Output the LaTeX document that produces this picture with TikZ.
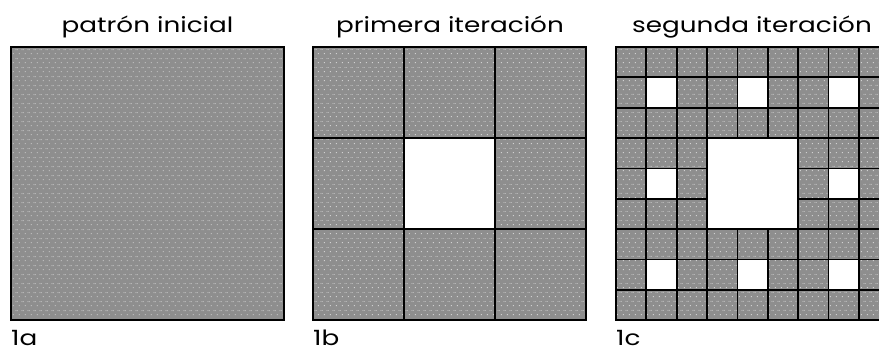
\documentclass[tikz,border=0pt]{standalone}
\usepackage{fontspec}
\setmainfont{Poppins}[FakeStretch=1.25]
\usetikzlibrary{patterns.meta}
\definecolor{cellgray}{HTML}{8E8E8E}
\definecolor{dotgray}{HTML}{D0D0D0}
\tikzdeclarepattern{
  name=gdots, type=colored,
  bottom left={(0pt,0pt)}, top right={(6.1pt,9pt)},
  tile size={(6.1pt,9pt)},
  code={
    \pgfsetfillcolor{dotgray}
    \pgfpathrectangle{\pgfpoint{1pt}{1pt}}{\pgfpoint{1pt}{1pt}}\pgfusepath{fill}
    \pgfpathrectangle{\pgfpoint{4.05pt}{5.5pt}}{\pgfpoint{1pt}{1pt}}\pgfusepath{fill}
  }
}
\tikzset{
  cell/.style={preaction={fill=cellgray}, pattern=gdots, draw=black, line width=1.8pt},
  hole/.style={fill=white, draw=black, line width=1.8pt},
  title/.style={anchor=base, font=\fontsize{21}{25}\selectfont},
  tag/.style={anchor=base west, inner sep=0pt, text depth=0pt, font=\fontsize{21}{25}\selectfont}
}
\begin{document}
\begin{tikzpicture}[x=1pt,y=-1pt]
\useasboundingbox (0,0) rectangle (879,352);
\clip (0,0) rectangle (879,352);
% square 1
\draw[cell] (11,47) rectangle (284,320);
% square 2
\foreach \i in {0,1,2}{
  \foreach \j in {0,1,2}{
    \pgfmathsetmacro\xa{313+\i*91}
    \pgfmathsetmacro\ya{47+\j*91}
    \ifnum\i=1 \ifnum\j=1
      \draw[hole] (\xa,\ya) rectangle ++(91,91);
    \else
      \draw[cell] (\xa,\ya) rectangle ++(91,91);
    \fi\else
      \draw[cell] (\xa,\ya) rectangle ++(91,91);
    \fi
  }
}
% square 3
\draw[hole] (707.3,138.3) rectangle ++(91.1,91.1);
\foreach \i in {0,...,8}{
  \foreach \j in {0,...,8}{
    \pgfmathtruncatemacro\hole{((mod(\i,3)==1)&&(mod(\j,3)==1))||((\i>2)&&(\i<6)&&(\j>2)&&(\j<6))}
    \pgfmathsetmacro\xa{616+\i*30.37}
    \pgfmathsetmacro\ya{47+\j*30.37}
    \ifnum\hole=0
      \draw[cell] (\xa,\ya) rectangle ++(30.37,30.37);
    \else
      \pgfmathtruncatemacro\big{(\i>2)&&(\i<6)&&(\j>2)&&(\j<6)}
      \ifnum\big=0
        \draw[hole] (\xa,\ya) rectangle ++(30.37,30.37);
      \fi
    \fi
  }
}
% texts
\node[title] (t1) at (147.5,33) {patrón inicial};
\node[title] (t2) at (450,33) {primera iteración};
\node[title] (t3) at (752,33) {segunda iteración};
\node[tag] (l1) at (11,346) {1a};
\node[tag] (l2) at (313,346) {1b};
\node[tag] (l3) at (616,346) {1c};
\end{tikzpicture}
\end{document}
